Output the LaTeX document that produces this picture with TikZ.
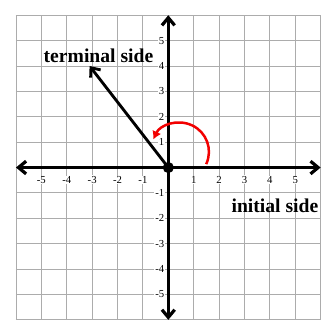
\documentclass[tikz,border=0pt]{standalone}
\usepackage{fontspec}
\setmainfont{Liberation Serif}
\usetikzlibrary{arrows.meta}
\tikzset{
  gridline/.style={gray!65, line width=1pt},
  axisarrow/.style={{Straight Barb[length=3mm,width=5mm]}-{Straight Barb[length=3mm,width=5mm]}, line width=3.6pt},
  sidearrow/.style={-{Straight Barb[length=3mm,width=5mm]}, line width=3.2pt},
  anglearrow/.style={-{Latex[length=3.2mm,width=3.8mm]}, line width=2.8pt, red!95!black},
  ticklabel/.style={font=\fontsize{12}{14}\selectfont, fill=white, inner sep=1pt},
  sidelabel/.style={font=\fontsize{22}{24}\selectfont\bfseries, inner sep=0pt}
}

\begin{document}
\begin{tikzpicture}
  \useasboundingbox (-6.63,-6.36) rectangle (6.33,6.6);
  \fill[white] (-6.63,-6.36) rectangle (6.33,6.6);
  % grid
  \draw[gridline] (-6,-6) grid (6,6);
  % tick labels
  \foreach \i in {-5,...,-1,1,2,...,5} {
    \node[ticklabel] (x\i) at (\i,-0.49) {\i};
    \node[ticklabel, anchor=east] (y\i) at (-0.12,\i) {\i};
  }
  % axes
  \coordinate (o) at (0,0);
  \coordinate (xl) at (-6,0);
  \coordinate (xr) at (6,0);
  \coordinate (yb) at (0,-6);
  \coordinate (yt) at (0,6);
  \draw[axisarrow] (xl) -- (xr);
  \draw[axisarrow] (yb) -- (yt);
  % terminal side and angle
  \coordinate (t) at (-3.1,4);
  \draw[sidearrow] (o) -- (t);
  \coordinate (arcstart) at ([shift={(-25:1.15)}]0.45,0.62);
  \draw[anglearrow] (arcstart) arc[start angle=-25, end angle=155, radius=1.15];
  \fill (o) circle (0.22);
  % labels
  \node[sidelabel] (term) at (-2.75,4.41) {terminal side};
  \node[sidelabel] (init) at (4.2,-1.51) {initial side};
\end{tikzpicture}
\end{document}
